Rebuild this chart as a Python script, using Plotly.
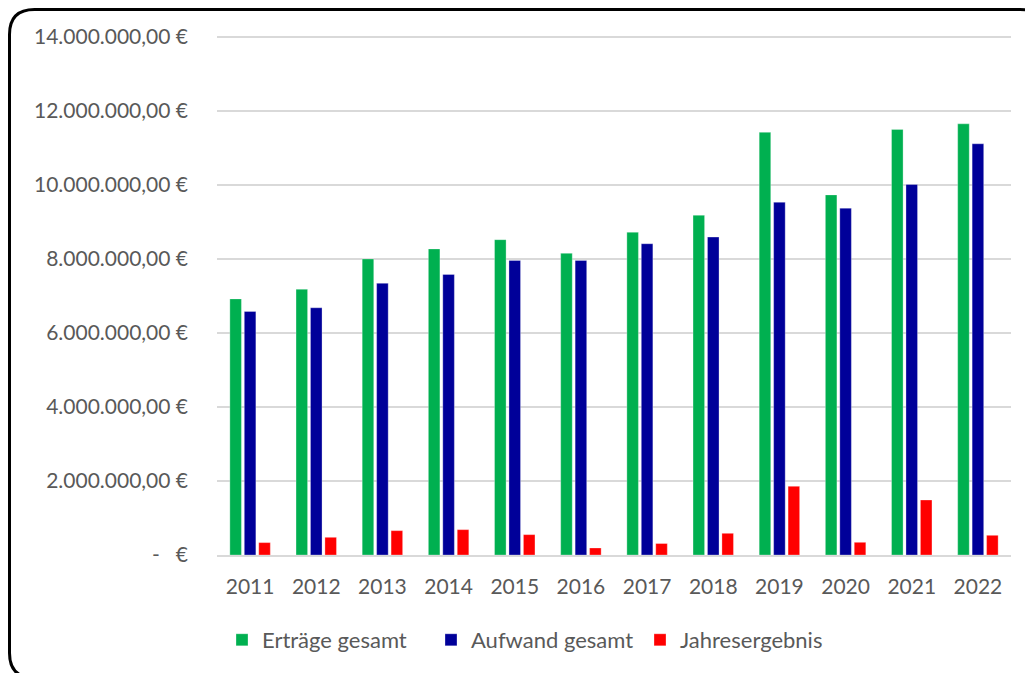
import plotly.graph_objects as go

years = ["2011", "2012", "2013", "2014", "2015", "2016", "2017", "2018", "2019", "2020", "2021", "2022"]
ertraege = [6.92e6, 7.18e6, 8.00e6, 8.27e6, 8.52e6, 8.15e6, 8.72e6, 9.18e6, 11.42e6, 9.73e6, 11.50e6, 11.65e6]
aufwand = [6.58e6, 6.68e6, 7.34e6, 7.58e6, 7.96e6, 7.96e6, 8.41e6, 8.59e6, 9.53e6, 9.37e6, 10.01e6, 11.11e6]
ergebnis = [0.335e6, 0.478e6, 0.658e6, 0.685e6, 0.55e6, 0.19e6, 0.31e6, 0.586e6, 1.857e6, 0.343e6, 1.486e6, 0.532e6]
y_tickvals = [0, 2e6, 4e6, 6e6, 8e6, 10e6, 12e6, 14e6]
y_ticktext = ["-   €", "2.000.000,00 €", "4.000.000,00 €", "6.000.000,00 €", "8.000.000,00 €",
              "10.000.000,00 €", "12.000.000,00 €", "14.000.000,00 €"]

# page has an 8px body margin, so the figure is sized/positioned accordingly
W, H = 1025, 665
ML, MR, MT, MB = 209, 22, 27, 118
FONT = "Lato"
GRAY = "#595959"

fig = go.Figure()
for name, vals, col in [("Erträge gesamt", ertraege, "#00B050"),
                        ("Aufwand gesamt", aufwand, "#000099"),
                        ("Jahresergebnis", ergebnis, "#FF0000")]:
    fig.add_trace(go.Bar(x=years, y=vals, name=name,
                         marker=dict(color=col, line=dict(color="rgba(255,255,255,0.5)", width=0.6))))

pw = W - ML - MR
ph = H - MT - MB
def px_x(p):
    return (p - ML) / pw
def px_y(p):
    return (H - MB - p) / ph

x0, x1 = px_x(1.5), px_x(1037)
y0, y1 = px_y(1.5), px_y(670)
r = 25
rx, ry = r / pw, r / ph
path = (f"M {x0+rx},{y0} L {x1-rx},{y0} Q {x1},{y0} {x1},{y0-ry} "
        f"L {x1},{y1+ry} Q {x1},{y1} {x1-rx},{y1} L {x0+rx},{y1} Q {x0},{y1} {x0},{y1+ry} "
        f"L {x0},{y0-ry} Q {x0},{y0} {x0+rx},{y0} Z")

fig.update_layout(
    width=W, height=H,
    margin=dict(l=ML, r=MR, t=MT, b=MB),
    paper_bgcolor="white", plot_bgcolor="white",
    barmode="group", bargap=0.345, bargroupgap=0.2,
    font=dict(family=FONT, size=21, color=GRAY),
    showlegend=True,
    legend=dict(orientation="h", x=px_x(214), xanchor="left", y=px_y(632), yanchor="middle",
                font=dict(family=FONT, size=22, color=GRAY), itemwidth=30,
                entrywidth=164, entrywidthmode="pixels", traceorder="normal"),
    xaxis=dict(showgrid=False, showline=True, linecolor="#D9D9D9", linewidth=1.5,
               ticks="", ticklabelstandoff=12, tickfont=dict(size=21, color=GRAY)),
    yaxis=dict(range=[0, 14.05e6], tickvals=y_tickvals, ticktext=y_ticktext,
               showgrid=True, gridcolor="#D9D9D9", gridwidth=1.5, zeroline=False,
               showline=False, ticks="", ticklabelstandoff=28, tickfont=dict(size=21, color=GRAY)),
    shapes=[dict(type="path", path=path, xref="paper", yref="paper",
                 line=dict(color="black", width=3), fillcolor="rgba(0,0,0,0)", layer="above")],
)

fig.write_html("out.html")
